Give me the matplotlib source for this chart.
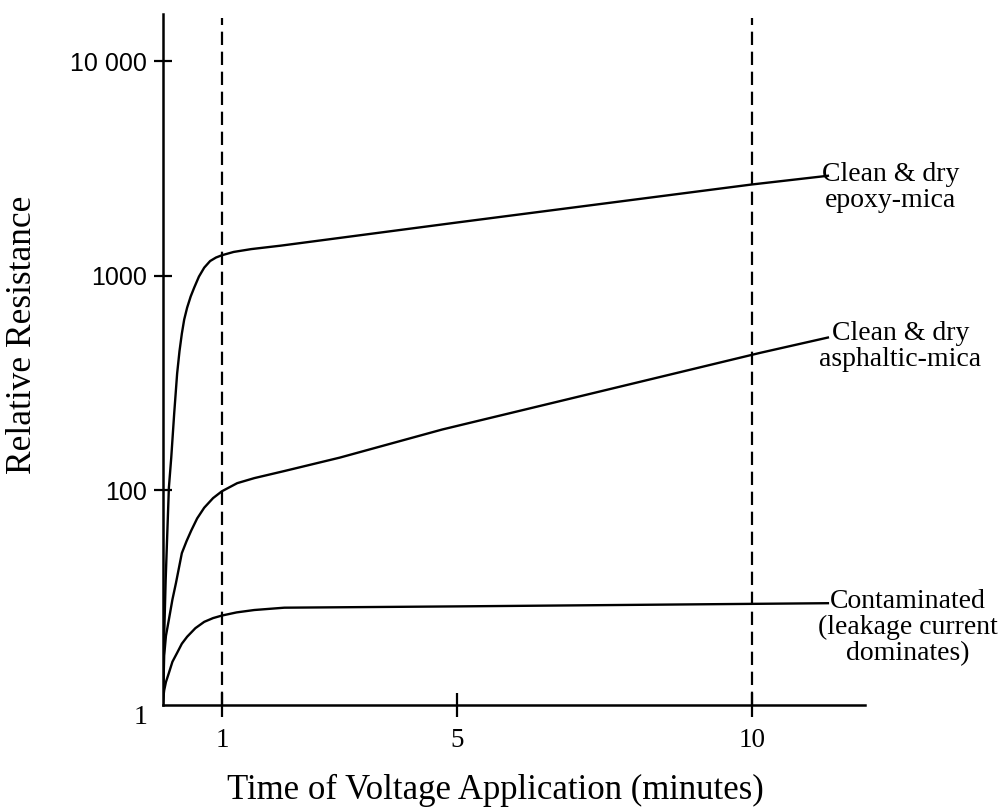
import matplotlib
matplotlib.use("Agg")
import matplotlib.pyplot as plt

# значения (y - относительное сопротивление, лог. шкала)
t_epoxy = [0.0, 0.01, 0.02, 0.045, 0.07, 0.10, 0.14, 0.19, 0.24, 0.28, 0.32, 0.36, 0.41, 0.47, 0.53, 0.61, 0.70, 0.80, 0.90, 1.0, 1.2, 1.5, 2.0, 5.0, 10.0, 11.29]
r_epoxy = [10, 15, 21, 38, 60, 103, 142, 228, 350, 445, 537, 625, 710, 800, 880, 990, 1090, 1170, 1215, 1245, 1290, 1330, 1380, 1770, 2660, 2920]

t_asph = [0.0, 0.02, 0.05, 0.10, 0.16, 0.22, 0.32, 0.40, 0.48, 0.58, 0.70, 0.85, 1.0, 1.26, 1.55, 2.06, 3.0, 4.74, 10.14, 11.29]
r_asph = [10, 17, 21, 25, 31, 37, 51, 58, 65, 74, 83, 92, 99, 108, 114, 123, 142, 192, 437, 515]

t_cont = [0.0, 0.02, 0.05, 0.10, 0.16, 0.24, 0.32, 0.41, 0.55, 0.70, 0.85, 1.0, 1.25, 1.55, 2.06, 5.0, 11.29]
r_cont = [10.5, 11.7, 12.8, 14.1, 15.9, 17.5, 19.3, 20.8, 22.8, 24.4, 25.4, 26.1, 27.0, 27.7, 28.4, 28.8, 29.8]

x_ticks = [1, 5, 10]
y_ticks = [10, 100, 1000, 10000]
y_tick_labels = ["1", "100", "1000", "10 000"]
marker_times = [1, 10]

labels = ["Clean & dry\nepoxy-mica", "Clean & dry\nasphaltic-mica", "Contaminated\n(leakage current\ndominates)"]
label_pos = [(12.35, 2570), (12.52, 468), (12.65, 23)]

serif = "Liberation Serif"
sans = "Liberation Sans"

fig = plt.figure(figsize=(10.01, 8.08), dpi=100)
ax = fig.add_axes([163 / 1001, 103 / 808, 702 / 1001, 691 / 808])

ax.set_yscale("log")
ax.set_xlim(0, 11.92)
ax.set_ylim(10, 10 ** 4.219)

for t in marker_times:
    ax.axvline(t, ymin=0, ymax=0.994, color="black", lw=1.6, linestyle=(0, (6, 3)))

ax.plot(t_epoxy, r_epoxy, color="black", lw=1.7)
ax.plot(t_asph, r_asph, color="black", lw=1.7)
ax.plot(t_cont, r_cont, color="black", lw=1.7)

for txt, (x, y) in zip(labels, label_pos):
    ax.text(x, y, txt, ha="center", va="center", multialignment="center",
            fontsize=20, family=serif, linespacing=1.05)

for s in ["top", "right"]:
    ax.spines[s].set_visible(False)
for s in ["left", "bottom"]:
    ax.spines[s].set_linewidth(1.8)

ax.set_xticks(x_ticks)
ax.set_xticklabels([str(v) for v in x_ticks], family=serif, fontsize=19.5)
ax.set_yticks(y_ticks)
ax.set_yticklabels(y_tick_labels, family=sans, fontsize=18)
ax.yaxis.set_minor_locator(matplotlib.ticker.NullLocator())
ax.tick_params(axis="x", direction="inout", length=17, width=1.6, pad=8)
ax.tick_params(axis="y", direction="inout", length=13, width=1.6, pad=5)

# нижняя метка "1" - другим шрифтом и без засечки
first = ax.get_yticklabels()[0]
first.set_fontfamily(serif)
first.set_fontsize(20)
first.set_va("top")
ax.yaxis.get_major_ticks()[0].tick1line.set_visible(False)

fig.text(495 / 1001, (808 - 790) / 808, "Time of Voltage Application (minutes)",
         ha="center", va="center", fontsize=25, family=serif)
fig.text(23 / 1001, (808 - 335) / 808, "Relative Resistance", rotation=90,
         ha="center", va="center", fontsize=25.5, family=serif)

fig.savefig("out.png", dpi=100)
